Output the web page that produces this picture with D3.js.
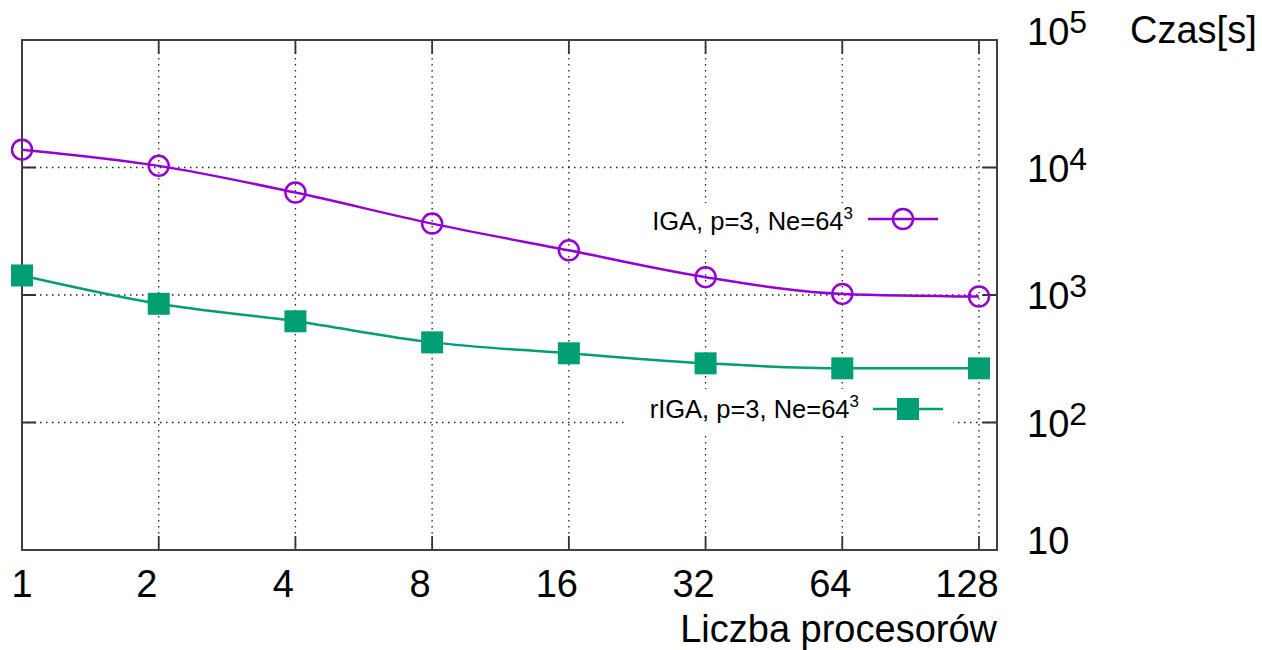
<!DOCTYPE html>
<html>
<head>
<meta charset="utf-8">
<script src="https://cdn.jsdelivr.net/npm/d3@7"></script>
<style>
  body { margin: 0; background: #fff; }
  text { font-family: "Liberation Sans", Arial, sans-serif; fill: #000; }
</style>
</head>
<body>
<script>
const processors = [1, 2, 4, 8, 16, 32, 64, 128];
const igaTime = [13800, 10300, 6360, 3630, 2240, 1380, 1020, 973];
const rigaTime = [1423, 853, 622, 425, 349, 291, 266, 266];
const yTicks = [10, 100, 1000, 10000, 100000];
const yTickLabels = [["10", ""], ["10", "2"], ["10", "3"], ["10", "4"], ["10", "5"]];
const seriesNames = ["IGA, p=3, Ne=64", "rIGA, p=3, Ne=64"];

const w = 1262, h = 650;
const pLeft = 22, pTop = 40, pRight = 997, pBottom = 550;

const svg = d3.select('body').append('svg')
    .attr('width', w)
    .attr('height', h);

const x = d3.scaleLog().base(2)
    .domain([1, 128])
    .range([pLeft, 979]);

const y = d3.scaleLog()
    .domain([10, 100000])
    .range([pBottom, pTop]);

// grid
const grid = svg.append('g');
grid.selectAll('.vg')
    .data(processors.slice(1))
    .enter().append('line')
    .attr('x1', d => x(d)).attr('x2', d => x(d))
    .attr('y1', pTop).attr('y2', pBottom)
    .attr('stroke', '#222')
    .attr('stroke-width', 1.3)
    .attr('stroke-dasharray', '1.5,4.5');
grid.selectAll('.hg')
    .data(yTicks.slice(1, -1))
    .enter().append('line')
    .attr('x1', pLeft).attr('x2', pRight)
    .attr('y1', d => y(d)).attr('y2', d => y(d))
    .attr('stroke', '#222')
    .attr('stroke-width', 1.3)
    .attr('stroke-dasharray', '1.5,4.5');

// tick marks (inward)
const tk = 14;
svg.selectAll('.xt')
    .data(processors.slice(1))
    .enter().append('path')
    .attr('d', d => `M${x(d)},${pBottom}v${-tk}M${x(d)},${pTop}v${tk}`)
    .attr('stroke', '#333').attr('stroke-width', 1.8);
svg.selectAll('.yt')
    .data(yTicks.slice(1, -1))
    .enter().append('path')
    .attr('d', d => `M${pLeft},${y(d)}h${tk}M${pRight},${y(d)}h${-tk}`)
    .attr('stroke', '#333').attr('stroke-width', 1.8);

// legend boxes (white, hide grid)
svg.append('rect').attr('x', 628).attr('y', 203).attr('width', 325).attr('height', 47).attr('fill', '#fff');
svg.append('rect').attr('x', 628).attr('y', 389).attr('width', 325).attr('height', 43).attr('fill', '#fff');

// frame
svg.append('rect')
    .attr('x', pLeft).attr('y', pTop)
    .attr('width', pRight - pLeft).attr('height', pBottom - pTop)
    .attr('fill', 'none')
    .attr('stroke', '#404040')
    .attr('stroke-width', 2);

// x tick labels (sit a little left of their ticks, like the original)
svg.selectAll('.xl')
    .data(processors)
    .enter().append('text')
    .attr('x', d => Math.max(x(d) - 12, pLeft))
    .attr('y', 597)
    .attr('text-anchor', 'middle')
    .style('font-size', '38px')
    .text(d => d);

svg.append('text')
    .attr('x', pRight).attr('y', 642)
    .attr('text-anchor', 'end')
    .style('font-size', '38px')
    .text('Liczba procesorów');

// y tick labels on right
const yl = svg.selectAll('.yl')
    .data(yTicks)
    .enter().append('text')
    .attr('x', 1027)
    .attr('y', (d, i) => {
        const yy = y(d) + 14;
        if (i === 0) return yy - 10;
        if (i === yTicks.length - 1) return yy - 9;
        return yy;
    })
    .style('font-size', '38px');
yl.append('tspan').text((d, i) => yTickLabels[i][0]);
yl.append('tspan')
    .attr('dy', -12)
    .style('font-size', '32px')
    .text((d, i) => yTickLabels[i][1]);

svg.append('text')
    .attr('x', 1130).attr('y', 43)
    .style('font-size', '38px')
    .text('Czas[s]');

// series
const line = d3.line()
    .x((d, i) => x(processors[i]))
    .y(d => y(d))
    .curve(d3.curveMonotoneX);

const purple = '#9400d3', green = '#009e73';

svg.append('path')
    .attr('d', line(igaTime))
    .attr('fill', 'none')
    .attr('stroke', purple)
    .attr('stroke-width', 2.5);
svg.append('path')
    .attr('d', line(rigaTime))
    .attr('fill', 'none')
    .attr('stroke', green)
    .attr('stroke-width', 2.5);

svg.selectAll('.pc')
    .data(igaTime)
    .enter().append('circle')
    .attr('cx', (d, i) => x(processors[i]))
    .attr('cy', d => y(d))
    .attr('r', 10)
    .attr('fill', 'none')
    .attr('stroke', purple)
    .attr('stroke-width', 2.5);

svg.selectAll('.gs')
    .data(rigaTime)
    .enter().append('rect')
    .attr('x', (d, i) => x(processors[i]) - 11)
    .attr('y', d => y(d) - 11)
    .attr('width', 22).attr('height', 22)
    .attr('fill', green);

// legend
function legendText(xEnd, yBase, label) {
    const t = svg.append('text')
        .attr('x', xEnd).attr('y', yBase)
        .attr('text-anchor', 'end')
        .style('font-size', '25.5px');
    t.append('tspan').text(label);
    t.append('tspan').attr('dy', -11).style('font-size', '17px').text('3');
}
legendText(853, 230, seriesNames[0]);
svg.append('line').attr('x1', 868).attr('x2', 938).attr('y1', 219).attr('y2', 219)
    .attr('stroke', purple).attr('stroke-width', 2.5);
svg.append('circle').attr('cx', 903).attr('cy', 219).attr('r', 10)
    .attr('fill', 'none').attr('stroke', purple).attr('stroke-width', 2.5);

legendText(859, 418, seriesNames[1]);
svg.append('line').attr('x1', 873).attr('x2', 943).attr('y1', 409).attr('y2', 409)
    .attr('stroke', green).attr('stroke-width', 2.5);
svg.append('rect').attr('x', 897).attr('y', 398).attr('width', 22).attr('height', 22)
    .attr('fill', green);
</script>
</body>
</html>
